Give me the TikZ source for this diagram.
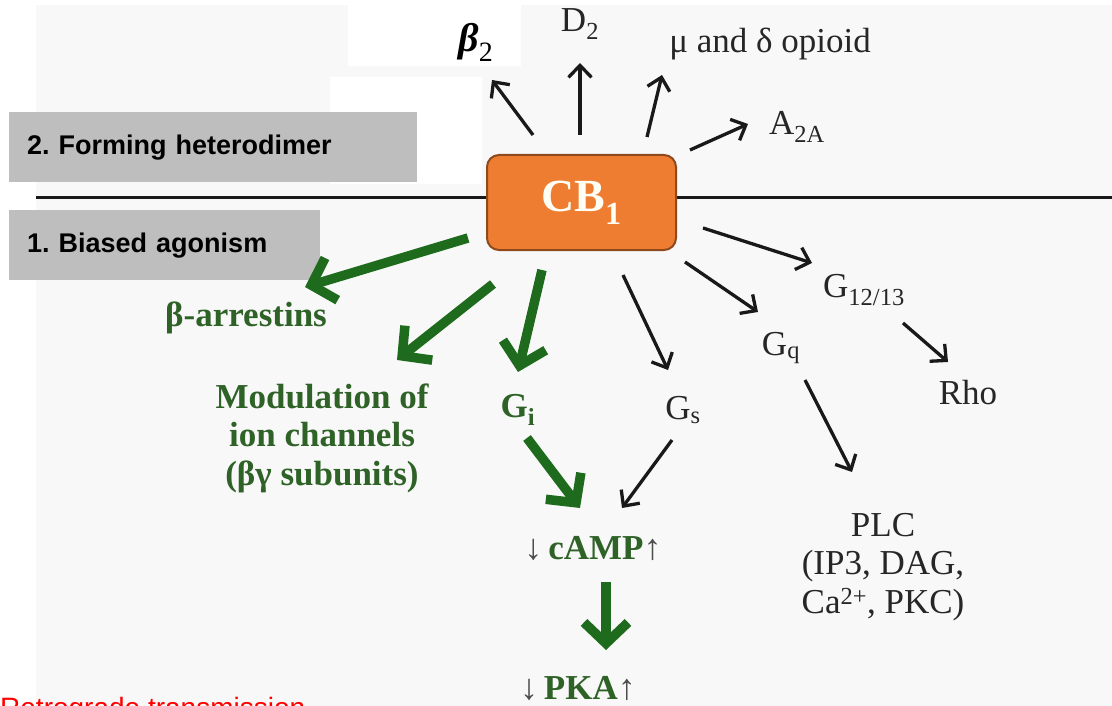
\documentclass[tikz,border=0pt]{standalone}
\usepackage{fontspec}
\setmainfont{Liberation Serif}
\newfontfamily\arial{Liberation Sans}
\usetikzlibrary{arrows.meta}
\frenchspacing

\definecolor{paper}{HTML}{F8F8F8}
\definecolor{tagfill}{HTML}{BEBEBE}
\definecolor{cborange}{HTML}{EE7D31}
\definecolor{cbedge}{HTML}{8E4A1C}
\definecolor{arrgreen}{HTML}{1E6B1E}
\definecolor{txtgreen}{HTML}{2E6227}

% thin grey up/down marks around cAMP and PKA
\newcommand\updown[1]{{\fontsize{36}{36}\selectfont\mdseries\color{black!70}#1}}

\tikzset{
  tagbox/.style={fill=tagfill, anchor=north west, inner xsep=18pt, inner ysep=0pt,
    minimum height=70pt, align=left, font=\arial\bfseries\fontsize{27}{32}\selectfont},
  cbbox/.style={fill=cborange, draw=cbedge, line width=2pt, rounded corners=12pt,
    minimum width=189pt, minimum height=95pt, text=white!96!yellow,
    font=\bfseries\fontsize{46}{50}\selectfont},
  lbl/.style={inner sep=0pt, font=\fontsize{35}{38.5}\selectfont, text=black!85},
  glbl/.style={lbl, text=txtgreen, font=\bfseries\fontsize{35}{38.5}\selectfont},
  blk/.style={draw=black!90, line width=3.3pt, -{Straight Barb[length=12pt,width=23pt]}},
  grn/.style={draw=arrgreen, line width=9.5pt, -{Straight Barb[length=21pt,width=44pt]}}
}

\begin{document}
\begin{tikzpicture}[x=1pt, y=-1pt]
  \useasboundingbox (0,0) rectangle (1112,706);
  \clip (0,0) rectangle (1112,706);

  % slide background and the two pasted white patches
  \fill[paper] (36,5) rectangle (1112,706);
  \fill[white] (348,5) rectangle (521,66);
  \fill[white] (330,77) rectangle (482,184);

  % membrane
  \draw[line width=3pt, black!90] (36,198) -- (1112,198);

  % side tags
  \node[tagbox, minimum width=408pt, text width=372pt] (hetero) at (9,112) {2. Forming heterodimer};
  \node[tagbox, minimum width=311pt, text width=275pt] (biased) at (9,210) {1. Biased agonism};

  % receptor
  \node[cbbox] (cb) at (581.5,202.5) {CB\textsubscript{1}};

  % heterodimer partners
  \node[lbl, font=\bfseries\itshape\fontsize{40}{40}\selectfont, text=black] (b2) at (476,42)
    {β\textsubscript{\mdseries\upshape 2}};
  \node[lbl] (d2) at (580,24) {D\textsubscript{2}};
  \node[lbl] (opioid) at (770,44) {μ and δ opioid};
  \node[lbl] (a2a) at (797,127) {A\textsubscript{2A}};

  % downstream effectors
  \node[lbl] (g1213) at (864,290) {G\textsubscript{12/13}};
  \node[lbl] (gq) at (781,348) {G\textsubscript{q}};
  \node[lbl] (rho) at (968,393) {Rho};
  \node[lbl] (gs) at (683,410) {G\textsubscript{s}};
  \node[glbl] (gi) at (518,410) {G\textsubscript{i}};
  \node[glbl] (arr) at (246,318) {β-arrestins};
  \node[glbl, align=center] (ion) at (322,438) {Modulation of\\ion channels\\(βγ subunits)};
  \node[glbl] (camp) at (593,548) {\updown{↓}\,cAMP\updown{↑}};
  \node[glbl] (pka) at (578,688) {\updown{↓}\,PKA\updown{↑}};
  \node[lbl, align=center] (plc) at (883,567) {PLC\\(IP3, DAG,\\Ca\textsuperscript{2+}, PKC)};

  % arrow end points
  \coordinate (s-b2) at (533,135);   \coordinate (e-b2) at (492,80);
  \coordinate (s-d2) at (580,135);   \coordinate (e-d2) at (580,63);
  \coordinate (s-op) at (647,137);   \coordinate (e-op) at (662,75);
  \coordinate (s-a2a) at (690,150);  \coordinate (e-a2a) at (748,124);
  \coordinate (s-g12) at (703,228);  \coordinate (e-g12) at (812,263);
  \coordinate (s-gq) at (685,262);   \coordinate (e-gq) at (758,312);
  \coordinate (s-gs) at (623,275);   \coordinate (e-gs) at (668,370);
  \coordinate (s-gsc) at (672,440);  \coordinate (e-gsc) at (622,508);
  \coordinate (s-plc) at (805,380);  \coordinate (e-plc) at (852,472);
  \coordinate (s-rho) at (903,323);  \coordinate (e-rho) at (948,362);
  \coordinate (s-arr) at (468,238);  \coordinate (e-arr) at (305,287);
  \coordinate (s-ion) at (493,284);  \coordinate (e-ion) at (397,360);
  \coordinate (s-gi) at (542,270);   \coordinate (e-gi) at (518,372);
  \coordinate (s-gic) at (527,438);  \coordinate (e-gic) at (580,508);
  \coordinate (s-pka) at (606,582);  \coordinate (e-pka) at (606,650);

  % black connectors
  \foreach \k in {b2,d2,op,a2a,g12,gq,gs,gsc,plc,rho}
    \draw[blk] (s-\k) -- (e-\k);

  % green connectors
  \foreach \k in {arr,ion,gi,gic,pka}
    \draw[grn] (s-\k) -- (e-\k);

  % caption running off the lower edge
  \node[anchor=north west, inner sep=0pt, text=red, font=\arial\fontsize{28}{32}\selectfont]
    (retro) at (0,697) {Retrograde transmission};
\end{tikzpicture}
\end{document}
